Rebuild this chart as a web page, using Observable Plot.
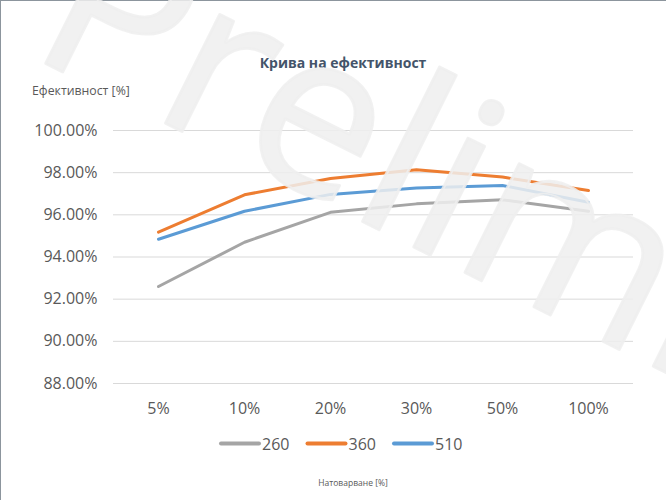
<!DOCTYPE html>
<html>
<head>
<meta charset="utf-8">
<script src="https://cdn.jsdelivr.net/npm/d3@7"></script>
<script src="https://cdn.jsdelivr.net/npm/@observablehq/plot@0.6"></script>
<style>
  html, body { margin: 0; padding: 0; background: #fff; }
  #wrap { position: relative; width: 666px; height: 500px; overflow: hidden; background: #fff; }
  #wrap > svg, #wrap > div { position: absolute; left: 0; top: 0; }
  #frame { position: absolute; left: 7px; top: 10px; width: 700px; height: 520px; border: 1px solid #8c959d; box-sizing: border-box; }
  .ov { pointer-events: none; }
</style>
</head>
<body>
<div id="wrap">
  <div id="frame"></div>
</div>
<script>
// ---- data ----
const categories = ["5%", "10%", "20%", "30%", "50%", "100%"];
const series = ["260", "360", "510"];
const eff260 = [92.6, 94.7, 96.12, 96.52, 96.71, 96.17];
const eff360 = [95.18, 96.95, 97.72, 98.14, 97.79, 97.15];
const eff510 = [94.84, 96.17, 96.97, 97.27, 97.39, 96.6];
const yTicks = [88, 90, 92, 94, 96, 98, 100];
const colors = ["#a5a5a5", "#ed7d31", "#5b9bd5"];
const title = "Крива на ефективност";
const yLabel = "Ефективност [%]";
const xLabel = "Натоварване [%]";
const watermark = "Preliminary";

const values = [eff260, eff360, eff510];
const data = [];
series.forEach((s, i) => categories.forEach((c, j) => data.push({series: s, cat: c, eff: values[i][j]})));

const W = 666, H = 500;
const font = "'Open Sans', 'DejaVu Sans', sans-serif";

const chart = Plot.plot({
  width: W, height: H,
  marginLeft: 113, marginRight: 33, marginTop: 130, marginBottom: 117,
  style: {background: "transparent", fontFamily: font, fontSize: "16px", color: "#595959", overflow: "visible"},
  x: {type: "point", domain: categories, padding: 0.5, label: null, tickSize: 0, tickPadding: 19},
  y: {domain: [88, 100], ticks: yTicks, tickFormat: d => d.toFixed(2) + "%", label: null, tickSize: 0, tickPadding: 16},
  color: {domain: series, range: colors},
  marks: [
    Plot.gridY(yTicks, {stroke: "#d9d9d9", strokeOpacity: 1, strokeWidth: 1}),
    Plot.line(data, {x: "cat", y: "eff", stroke: "series", z: "series", strokeWidth: 3, strokeLinecap: "round", strokeLinejoin: "round"})
  ]
});
const wrap = document.getElementById("wrap");
wrap.appendChild(chart);

// ---- overlay texts & legend ----
const ov = d3.select(wrap).append("svg").attr("class", "ov").attr("width", W).attr("height", H)
  .style("position", "absolute").style("left", 0).style("top", 0)
  .attr("font-family", font);

ov.append("text").attr("x", 343).attr("y", 68).attr("text-anchor", "middle")
  .attr("font-size", 14).attr("font-weight", 700).attr("fill", "#44546a").text(title);
ov.append("text").attr("x", 32).attr("y", 95)
  .attr("font-size", 12.3).attr("fill", "#595959").text(yLabel);
ov.append("text").attr("x", 353).attr("y", 486).attr("text-anchor", "middle")
  .attr("font-size", 8.5).attr("fill", "#595959").text(xLabel);

const leg = ov.append("g");
series.forEach((s, i) => {
  const x0 = 219 + i * 86.5;
  leg.append("line").attr("x1", x0 + 2).attr("x2", x0 + 40).attr("y1", 443.5).attr("y2", 443.5)
    .attr("stroke", colors[i]).attr("stroke-width", 4).attr("stroke-linecap", "round");
  leg.append("text").attr("x", x0 + 43).attr("y", 449.5).attr("font-size", 16).attr("fill", "#595959").text(s);
});

// ---- watermark (on top) ----
ov.append("text").attr("transform", "translate(26,53.5) rotate(26.5)")
  .attr("font-size", 227).attr("fill", "#efefef").attr("fill-opacity", 0.85)
  .attr("stroke", "#efefef").attr("stroke-opacity", 0.85).attr("stroke-width", 3).attr("stroke-linejoin", "round")
  .attr("paint-order", "stroke")
  .text(watermark);
</script>
</body>
</html>
